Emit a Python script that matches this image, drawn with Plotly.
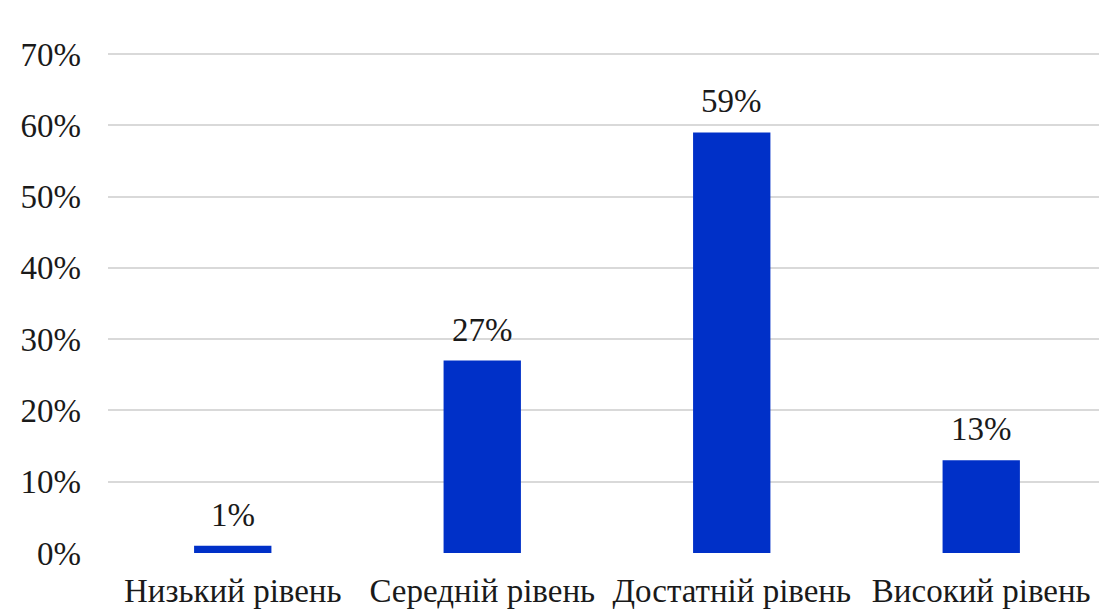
import plotly.graph_objects as go

categories = ["Низький рівень", "Середній рівень", "Достатній рівень", "Високий рівень"]
values = [1, 27, 59, 13]
labels = ["1%", "27%", "59%", "13%"]
y_ticks = [0, 10, 20, 30, 40, 50, 60, 70]
y_tick_text = ["0%", "10%", "20%", "30%", "40%", "50%", "60%", "70%"]

FONT = "Liberation Serif, Times New Roman, serif"
BAR_COLOR = "#0030C8"
TEXT_COLOR = "#1a1a1a"

fig = go.Figure()
fig.add_trace(go.Bar(
    x=list(range(len(categories))), y=values,
    marker=dict(color=BAR_COLOR, line=dict(width=0)),
    width=0.31,
    hoverinfo="skip",
))

for i, (v, t) in enumerate(zip(values, labels)):
    fig.add_annotation(x=i, y=v, text=t, showarrow=False, yanchor="bottom",
                       yshift=11, font=dict(family=FONT, size=33, color=TEXT_COLOR))

fig.update_layout(
    width=1099, height=610,
    margin=dict(l=108, r=0, t=53, b=57),
    paper_bgcolor="white", plot_bgcolor="white",
    showlegend=False,
    font=dict(family=FONT, size=33, color=TEXT_COLOR),
)
fig.update_xaxes(
    tickmode="array", tickvals=list(range(len(categories))), ticktext=categories,
    range=[-0.5, 3.472], showgrid=False, zeroline=False, showline=False,
    ticks="", ticklabelstandoff=15, automargin=False,
    tickfont=dict(family=FONT, size=33, color=TEXT_COLOR),
)
fig.update_yaxes(
    tickmode="array", range=[0, 70.15], tickvals=y_ticks, ticktext=y_tick_text,
    showgrid=True, gridcolor="#d9d9d9", gridwidth=2,
    zeroline=False, showline=False, ticks="", ticklabelstandoff=26, automargin=False,
    tickfont=dict(family=FONT, size=33, color=TEXT_COLOR),
)

fig.write_html(
    "out.html",
    config={"displayModeBar": False},
    post_script="document.body.style.margin='0px';document.body.style.overflow='hidden';",
)
